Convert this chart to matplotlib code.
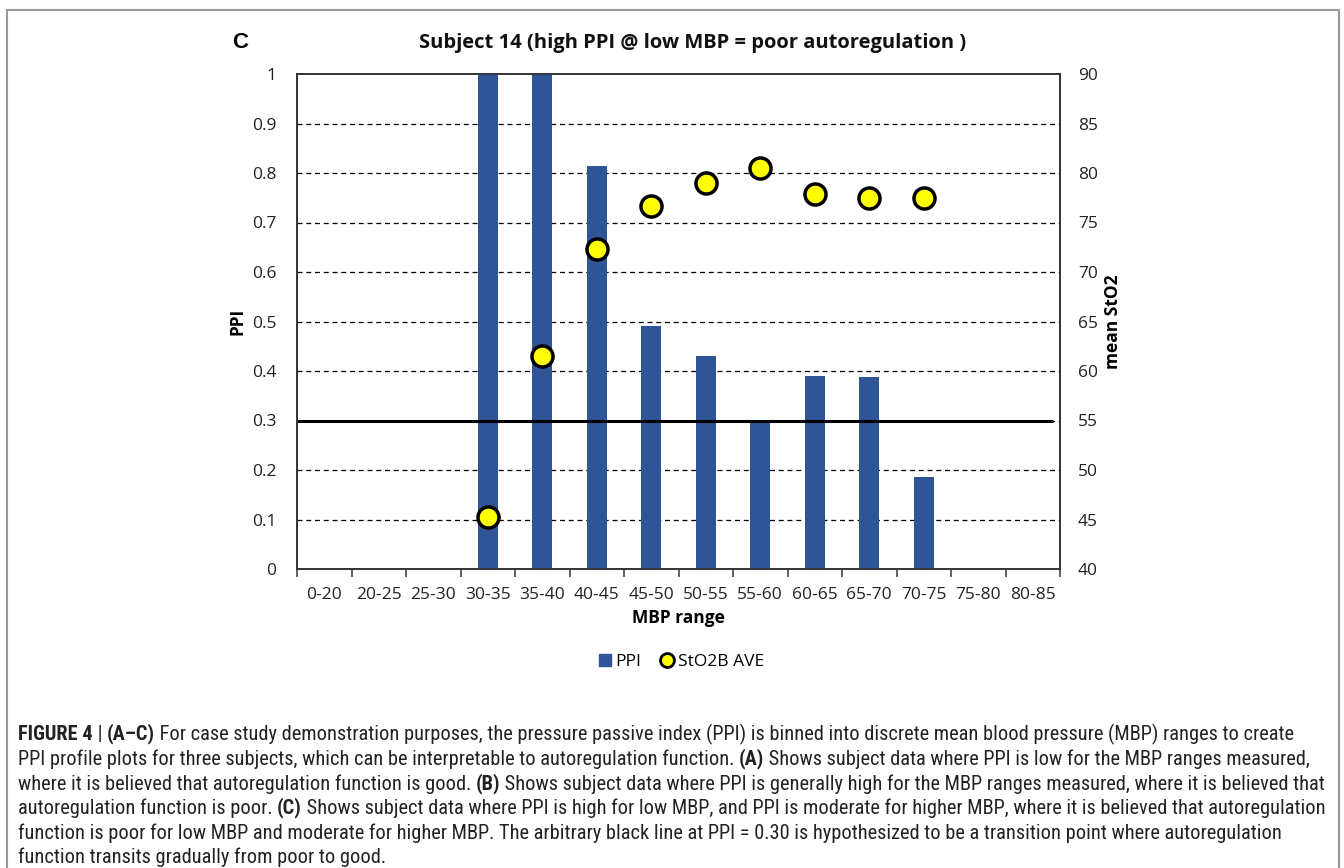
import matplotlib
matplotlib.use("Agg")
import matplotlib.pyplot as plt
from matplotlib.lines import Line2D
from matplotlib.patches import Rectangle
from matplotlib import font_manager
import numpy as np

categories = ["0-20", "20-25", "25-30", "30-35", "35-40", "40-45", "45-50",
              "50-55", "55-60", "60-65", "65-70", "70-75", "75-80", "80-85"]
ppi = [0, 0, 0, 1.0, 1.0, 0.815, 0.49, 0.43, 0.30, 0.39, 0.387, 0.186, 0, 0]
sto2 = [None, None, None, 45.3, 61.5, 72.3, 76.7, 79.0, 80.5, 77.9, 77.5, 77.5, None, None]
threshold = 0.30
left_ticks = [0, 0.1, 0.2, 0.3, 0.4, 0.5, 0.6, 0.7, 0.8, 0.9, 1]
right_ticks = [40, 45, 50, 55, 60, 65, 70, 75, 80, 85, 90]

W, H = 1344, 868
fig = plt.figure(figsize=(W / 100, H / 100), dpi=100)
fig.patch.set_facecolor("white")

tick_font = "Open Sans"
ax = fig.add_axes([297 / W, 1 - 569 / H, (1060 - 297) / W, (569 - 74) / H])
n = len(categories)
x = np.arange(n)
ax.bar(x, ppi, width=0.37, color="#2F5597", zorder=3)
ax.set_xlim(-0.5, n - 0.5)
ax.set_ylim(0, 1)
ax.set_yticks(left_ticks)
ax.set_yticklabels([f"{v:g}" for v in left_ticks], fontsize=12.5, family=tick_font, color="#222222")
for v in left_ticks[1:-1]:
    ax.axhline(v, color="black", lw=0.9, ls=(0, (4, 3)), zorder=1)
ax.plot([-0.5, n - 0.62], [threshold, threshold], color="black", lw=2.2, zorder=4, solid_capstyle="butt")
ax.set_xticks(x)
ax.set_xticklabels(categories, fontsize=12.5, family=tick_font, color="#222222")
ax.set_xticks(np.arange(-0.5, n, 1), minor=True)
ax.tick_params(axis="x", which="major", length=0, pad=13)
ax.tick_params(axis="x", which="minor", length=6, width=1.2, direction="out", color="#444444")
ax.tick_params(axis="y", length=0, pad=15)
for s in ax.spines.values():
    s.set_color("#333333")
    s.set_linewidth(1.2)
ax.set_xlabel("MBP range", fontsize=12.5, family=tick_font, fontweight="bold", labelpad=4)
ax.set_ylabel("PPI", fontsize=12.5, family=tick_font, fontweight="bold", labelpad=4)

ax2 = ax.twinx()
ax2.set_ylim(40, 90)
ax2.set_yticks(right_ticks)
ax2.set_yticklabels([str(v) for v in right_ticks], fontsize=12.5, family=tick_font, color="#222222")
ax2.tick_params(axis="y", length=0, pad=13)
xs = [i for i, v in enumerate(sto2) if v is not None]
ys = [v for v in sto2 if v is not None]
ax2.scatter(xs, ys, s=230, facecolor="#FFFF00", edgecolor="black", linewidths=2.5, zorder=5)
ax2.set_ylabel("mean StO2", fontsize=12.5, family=tick_font, fontweight="bold", labelpad=4)
for s in ax2.spines.values():
    s.set_color("#333333")
    s.set_linewidth(1.2)

fig.text(693 / W, 1 - 43 / H, "Subject 14 (high PPI @ low MBP = poor autoregulation )",
         fontsize=14.5, family=tick_font, fontweight="bold", ha="center", va="center", color="#111111")
fig.text(240 / W, 1 - 42 / H, "C", fontsize=16, family="Liberation Sans", fontweight="bold",
         ha="center", va="center")

handles = [Line2D([], [], marker="s", ls="none", markersize=9, markerfacecolor="#2F5597", markeredgecolor="#2F5597"),
           Line2D([], [], marker="o", ls="none", markersize=10, markerfacecolor="#FFFF00", markeredgecolor="black", markeredgewidth=2)]
fig.legend(handles, ["PPI", "StO2B AVE"], loc="center", bbox_to_anchor=(680 / W, 1 - 662 / H),
           ncol=2, frameon=False, prop={"family": tick_font, "size": 12.5},
           handletextpad=0.1, columnspacing=1.0, handlelength=1.0)

# border
fig.patches.append(Rectangle((7 / W, -0.01), (1339 - 7) / W, (868 - 10) / H + 0.01,
                             transform=fig.transFigure, fill=False, edgecolor="#999999", lw=1.5))

# caption font: prefer a condensed family if available
cap_family = "Liberation Sans"
for cand in ["Roboto Condensed", "Liberation Sans Narrow", "Open Sans Condensed", "DejaVu Sans Condensed", "Noto Sans Condensed"]:
    try:
        font_manager.findfont(font_manager.FontProperties(family=cand), fallback_to_default=False)
        cap_family = cand
        break
    except Exception:
        pass

caption_lines = [
    [("FIGURE 4", True), (" | ", False), ("(A\u2013C)", True),
     (" For case study demonstration purposes, the pressure passive index (PPI) is binned into discrete mean blood pressure (MBP) ranges to create", False)],
    [("PPI profile plots for three subjects, which can be interpretable to autoregulation function. ", False), ("(A)", True),
     (" Shows subject data where PPI is low for the MBP ranges measured,", False)],
    [("where it is believed that autoregulation function is good. ", False), ("(B)", True),
     (" Shows subject data where PPI is generally high for the MBP ranges measured, where it is believed that", False)],
    [("autoregulation function is poor. ", False), ("(C)", True),
     (" Shows subject data where PPI is high for low MBP, and PPI is moderate for higher MBP, where it is believed that autoregulation", False)],
    [("function is poor for low MBP and moderate for higher MBP. The arbitrary black line at PPI = 0.30 is hypothesized to be a transition point where autoregulation", False)],
    [("function transits gradually from poor to good.", False)],
]
line_y = [734, 759, 784, 808, 833, 857]
line_end = [1326, 1300, 1330, 1318, 1291, 1330]
renderer = fig.canvas.get_renderer()

def draw_line(runs, yp, size, draw=True):
    xp = 18.0
    made = []
    for txt, bold in runs:
        t = fig.text(xp / W, 1 - yp / H, txt, fontsize=size, family=cap_family,
                     fontweight="bold" if bold else "normal", ha="left", va="center", color="#222222")
        bb = t.get_window_extent(renderer=renderer)
        xp += bb.width
        made.append(t)
    if not draw:
        for t in made:
            t.remove()
    return xp - 18.0

trial = 13.0
sizes = []
for runs, yp, end in zip(caption_lines[:5], line_y, line_end):
    wd = draw_line(runs, yp, trial, draw=False)
    sizes.append(trial * (end - 18.0) / wd)
cap_size = min(16.0, min(sizes))
for runs, yp in zip(caption_lines, line_y):
    draw_line(runs, yp, cap_size)

fig.savefig("out.png", dpi=100, facecolor="white")
